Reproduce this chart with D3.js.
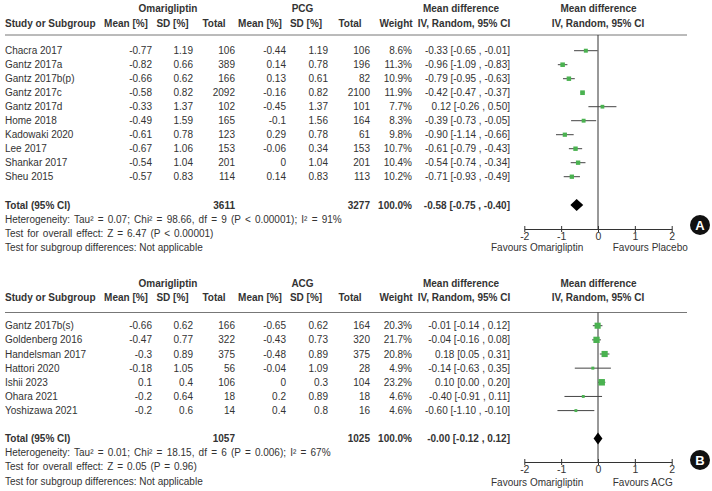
<!DOCTYPE html>
<html><head><meta charset="utf-8">
<script src="https://cdn.jsdelivr.net/npm/d3@7"></script>
<style>
html,body{margin:0;padding:0;background:#fff;}
svg text{font-family:"Liberation Sans",Arial,sans-serif;}
</style></head>
<body>
<svg id="chart" width="712" height="491"></svg>
<script>
// ---------- Panel A data (Omarigliptin vs PCG) ----------
const studiesA = ["Chacra 2017","Gantz 2017a","Gantz 2017b(p)","Gantz 2017c","Gantz 2017d","Home 2018","Kadowaki 2020","Lee 2017","Shankar 2017","Sheu 2015"];
const omaMeanA = [-0.77,-0.82,-0.66,-0.58,-0.33,-0.49,-0.61,-0.67,-0.54,-0.57];
const omaSdA   = [1.19,0.66,0.62,0.82,1.37,1.59,0.78,1.06,1.04,0.83];
const omaNA    = [106,389,166,2092,102,165,123,153,201,114];
const ctlMeanA = [-0.44,0.14,0.13,-0.16,-0.45,-0.1,0.29,-0.06,0,0.14];
const ctlSdA   = [1.19,0.78,0.61,0.82,1.37,1.56,0.78,0.34,1.04,0.83];
const ctlNA    = [106,196,82,2100,101,164,61,153,201,113];
const weightA  = [8.6,11.3,10.9,11.9,7.7,8.3,9.8,10.7,10.4,10.2];
const mdA      = [-0.33,-0.96,-0.79,-0.42,0.12,-0.39,-0.90,-0.61,-0.54,-0.71];
const loA      = [-0.65,-1.09,-0.95,-0.47,-0.26,-0.73,-1.14,-0.79,-0.74,-0.93];
const hiA      = [-0.01,-0.83,-0.63,-0.37,0.50,-0.05,-0.66,-0.43,-0.34,-0.49];
const totalA   = {omaN:3611, ctlN:3277, weight:100.0, md:-0.58, lo:-0.75, hi:-0.40};
const notesA   = ["Heterogeneity: Tau² = 0.07; Chi² = 98.66, df = 9 (P < 0.00001); I² = 91%",
                  "Test for overall effect: Z = 6.47 (P < 0.00001)",
                  "Test for subgroup differences: Not applicable"];

// ---------- Panel B data (Omarigliptin vs ACG) ----------
const studiesB = ["Gantz 2017b(s)","Goldenberg 2016","Handelsman 2017","Hattori 2020","Ishii 2023","Ohara 2021","Yoshizawa 2021"];
const omaMeanB = [-0.66,-0.47,-0.3,-0.18,0.1,-0.2,-0.2];
const omaSdB   = [0.62,0.77,0.89,1.05,0.4,0.64,0.6];
const omaNB    = [166,322,375,56,106,18,14];
const ctlMeanB = [-0.65,-0.43,-0.48,-0.04,0,0.2,0.4];
const ctlSdB   = [0.62,0.73,0.89,1.09,0.3,0.89,0.8];
const ctlNB    = [164,320,375,28,104,18,16];
const weightB  = [20.3,21.7,20.8,4.9,23.2,4.6,4.6];
const mdB      = [-0.01,-0.04,0.18,-0.14,0.10,-0.40,-0.60];
const loB      = [-0.14,-0.16,0.05,-0.63,0.00,-0.91,-1.10];
const hiB      = [0.12,0.08,0.31,0.35,0.20,0.11,-0.10];
const totalB   = {omaN:1057, ctlN:1025, weight:100.0, md:-0, lo:-0.12, hi:0.12};
const notesB   = ["Heterogeneity: Tau² = 0.01; Chi² = 18.15, df = 6 (P = 0.006); I² = 67%",
                  "Test for overall effect: Z = 0.05 (P = 0.96)",
                  "Test for subgroup differences: Not applicable"];

const axisTicks = [-2,-1,0,1,2];

// ---------- drawing ----------
const svg = d3.select("#chart");
const TXT = "#333";
const GREEN = "#4ab250";
const x = d3.scaleLinear().domain([-2,2]).range([524.3,671.7]);
const fmt2 = v => ((Object.is(v,-0) || v < 0) ? "-" : "") + Math.abs(v).toFixed(2);
const ciText = (m,l,h) => `${fmt2(m)} [${fmt2(l)} , ${fmt2(h)}]`;

function panel(cfg){
  const g = svg.append("g");
  const t = (xx, yy, s, anchor, bold, size) => g.append("text")
      .attr("x", xx).attr("y", yy).attr("dy","0.35em")
      .attr("text-anchor", anchor||"start")
      .attr("font-size", size||10)
      .attr("font-weight", bold ? "bold" : "normal")
      .attr("fill", TXT).text(s);

  // group headers
  t(168, cfg.yGroup, "Omarigliptin", "middle", true);
  t(302.5, cfg.yGroup, cfg.ctl, "middle", true);
  t(461, cfg.yGroup, "Mean difference", "middle", true);
  t(598.5, cfg.yGroup, "Mean difference", "middle", true);
  // column headers
  t(5, cfg.yHead, "Study or Subgroup", "start", true);
  t(126, cfg.yHead, "Mean [%]", "middle", true);
  t(172.5, cfg.yHead, "SD [%]", "middle", true);
  t(214, cfg.yHead, "Total", "middle", true);
  t(260, cfg.yHead, "Mean [%]", "middle", true);
  t(306, cfg.yHead, "SD [%]", "middle", true);
  t(350, cfg.yHead, "Total", "middle", true);
  t(396, cfg.yHead, "Weight", "middle", true);
  t(464, cfg.yHead, "IV, Random, 95% CI", "middle", true);
  t(598, cfg.yHead, "IV, Random, 95% CI", "middle", true);
  // header rule
  g.append("line").attr("x1",5).attr("x2",687).attr("y1",cfg.yLine).attr("y2",cfg.yLine)
    .attr("stroke","#777").attr("stroke-width",1);

  const y = i => cfg.yRow0 + i*cfg.step;
  cfg.studies.forEach((s,i) => {
    t(5, y(i), s, "start");
    t(152, y(i), String(cfg.omaMean[i]), "end");
    t(193, y(i), String(cfg.omaSd[i]), "end");
    t(235, y(i), String(cfg.omaN[i]), "end");
    t(286, y(i), String(cfg.ctlMean[i]), "end");
    t(328, y(i), String(cfg.ctlSd[i]), "end");
    t(370, y(i), String(cfg.ctlN[i]), "end");
    t(412, y(i), cfg.weight[i].toFixed(1) + "%", "end");
    t(510, y(i), ciText(cfg.md[i], cfg.lo[i], cfg.hi[i]), "end");
  });
  const T = cfg.total;
  t(5, cfg.yTotal, "Total (95% CI)", "start", true);
  t(235, cfg.yTotal, String(T.omaN), "end", true);
  t(370, cfg.yTotal, String(T.ctlN), "end", true);
  t(412, cfg.yTotal, T.weight.toFixed(1) + "%", "end", true);
  t(510, cfg.yTotal, ciText(T.md, T.lo, T.hi), "end", true);
  const ws = [1.4, 1.15, 0];
  cfg.notes.forEach((n,k) => t(5, cfg.yTotal + 14.2*(k+1), n, "start").attr("word-spacing", ws[k]));

  // zero line
  g.append("line").attr("x1",x(0)).attr("x2",x(0)).attr("y1",cfg.yLine).attr("y2",cfg.yAxis)
    .attr("stroke","#333").attr("stroke-width",1);

  // CIs and squares
  cfg.studies.forEach((s,i) => {
    g.append("line").attr("x1",x(cfg.lo[i])).attr("x2",x(cfg.hi[i]))
      .attr("y1",y(i)).attr("y2",y(i)).attr("stroke","#444").attr("stroke-width",1);
    const side = 1.35*Math.sqrt(cfg.weight[i]);
    g.append("rect").attr("x",x(cfg.md[i])-side/2).attr("y",y(i)-side/2)
      .attr("width",side).attr("height",side).attr("fill",GREEN);
  });
  // diamond
  const yt = cfg.yTotal;
  g.append("polygon").attr("points",
    [[x(T.lo),yt],[x(T.md),yt-6],[x(T.hi),yt],[x(T.md),yt+6]].map(p=>p.join(",")).join(" "))
    .attr("fill","#000");

  // axis
  const ax = g.append("g").attr("transform",`translate(0,${cfg.yAxis})`)
    .call(d3.axisBottom(x).tickValues(axisTicks).tickFormat(d3.format("d"))
          .tickSizeInner(3).tickSizeOuter(0).tickPadding(1));
  ax.select(".domain").attr("stroke","#333");
  ax.selectAll(".tick line").attr("y1",-3).attr("y2",3).attr("stroke","#333");
  ax.selectAll(".tick text").attr("font-size",10.5).attr("fill",TXT)
    .attr("font-family",'"Liberation Sans",Arial,sans-serif')
    .text(d => d < 0 ? "-" + Math.abs(d) : String(d));
  t(x(-0.4), cfg.yFav, "Favours Omarigliptin", "end", false, 10);
  t(x(0.4), cfg.yFav, cfg.favRight, "start", false, 10);

  // panel badge
  g.append("circle").attr("cx",700).attr("cy",cfg.yBadge).attr("r",10).attr("fill","#111");
  g.append("text").attr("x",700).attr("y",cfg.yBadge).attr("dy","0.36em")
    .attr("text-anchor","middle").attr("font-size",13).attr("font-weight","bold")
    .attr("fill","#fff").text(cfg.badge);
}

panel({ctl:"PCG", favRight:"Favours Placebo", badge:"A",
  studies:studiesA, omaMean:omaMeanA, omaSd:omaSdA, omaN:omaNA,
  ctlMean:ctlMeanA, ctlSd:ctlSdA, ctlN:ctlNA, weight:weightA,
  md:mdA, lo:loA, hi:hiA, total:totalA, notes:notesA,
  yGroup:8, yHead:23, yLine:35, yRow0:50.7, step:14, yTotal:205,
  yAxis:229, yFav:247.5, yBadge:225});

panel({ctl:"ACG", favRight:"Favours ACG", badge:"B",
  studies:studiesB, omaMean:omaMeanB, omaSd:omaSdB, omaN:omaNB,
  ctlMean:ctlMeanB, ctlSd:ctlSdB, ctlN:ctlNB, weight:weightB,
  md:mdB, lo:loB, hi:hiB, total:totalB, notes:notesB,
  yGroup:283.5, yHead:297, yLine:312.5, yRow0:325.7, step:14.15, yTotal:438.5,
  yAxis:462, yFav:482, yBadge:460});
</script>
</body></html>
